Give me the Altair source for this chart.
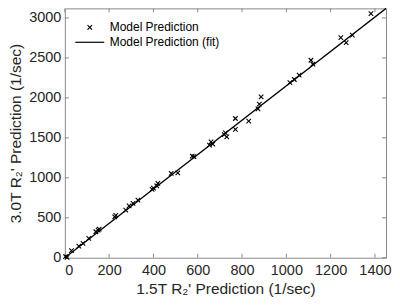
import altair as alt
import pandas as pd

# Data
pred_15T = [3, 10, 30, 63, 82, 108, 140, 150, 155, 225, 230, 275, 290, 308, 330,
            394, 400, 415, 420, 480, 510, 575, 583, 653, 660, 668, 720, 725, 731,
            770, 770, 830, 872, 878, 886, 1016, 1036, 1058, 1111, 1120, 1246, 1270,
            1298, 1382]
pred_30T = [15, 5, 88, 146, 180, 242, 325, 345, 358, 512, 530, 596, 650, 680, 721,
            855, 870, 900, 930, 1055, 1063, 1271, 1265, 1410, 1450, 1421, 1540, 1563, 1513,
            1605, 1742, 1709, 1863, 1921, 2013, 2192, 2230, 2284, 2471, 2421, 2755, 2692,
            2784, 3055]
fit_x = [0, 1450]
fit_y = [0, 3120]
x_ticks = [0, 200, 400, 600, 800, 1000, 1200, 1400]
y_ticks = [0, 500, 1000, 1500, 2000, 2500, 3000]
series_names = ["Model Prediction", "Model Prediction (fit)"]

W, H = 322, 250
FONT = "Liberation Sans"
AXIS_GRAY = "#8a8a8a"
TEXT = "#262626"

pts = pd.DataFrame({"x": pred_15T, "y": pred_30T, "series": series_names[0]})
fit = pd.DataFrame({"x": fit_x, "y": fit_y})
xt = pd.DataFrame({"t": x_ticks})
yt = pd.DataFrame({"t": y_ticks})

xscale = alt.Scale(domain=[0, 1450], nice=False, zero=False)
yscale = alt.Scale(domain=[0, 3120], nice=False, zero=False)

x_path = "M-0.45,-0.45L0.45,0.45M-0.45,0.45L0.45,-0.45"
line_path = "M-2.9,0L2.9,0"

points = alt.Chart(pts).mark_point(size=100, stroke="black", strokeWidth=1.1, filled=False, opacity=1).encode(
    x=alt.X("x:Q", scale=xscale,
            axis=alt.Axis(values=x_ticks, format="d", title="1.5T R₂' Prediction (1/sec)", ticks=False,
                          domain=False, grid=False, labelPadding=6, titlePadding=4)),
    y=alt.Y("y:Q", scale=yscale,
            axis=alt.Axis(values=y_ticks, format="d", title="3.0T R₂' Prediction (1/sec)", ticks=False,
                          domain=False, grid=False, labelPadding=4, titlePadding=5)),
    shape=alt.Shape("series:N",
                    scale=alt.Scale(domain=series_names, range=[x_path, line_path]),
                    legend=alt.Legend(title=None, orient="none", legendX=19, legendY=13, padding=0,
                                      symbolSize=100, symbolStrokeColor="black", symbolStrokeWidth=1.2,
                                      symbolFillColor="transparent", labelFont=FONT, labelFontSize=12,
                                      labelColor="black", labelOffset=14, rowPadding=3)),
)

line = alt.Chart(fit).mark_line(color="black", strokeWidth=1.3).encode(
    x=alt.X("x:Q", scale=xscale), y=alt.Y("y:Q", scale=yscale)
)

tick_len = 4
bottom_ticks = alt.Chart(xt).mark_rule(color=AXIS_GRAY, strokeWidth=1).encode(
    x=alt.X("t:Q", scale=xscale), y=alt.value(H), y2=alt.value(H - tick_len))
top_ticks = alt.Chart(xt).mark_rule(color=AXIS_GRAY, strokeWidth=1).encode(
    x=alt.X("t:Q", scale=xscale), y=alt.value(0), y2=alt.value(tick_len))
left_ticks = alt.Chart(yt).mark_rule(color=AXIS_GRAY, strokeWidth=1).encode(
    y=alt.Y("t:Q", scale=yscale), x=alt.value(0), x2=alt.value(tick_len))
right_ticks = alt.Chart(yt).mark_rule(color=AXIS_GRAY, strokeWidth=1).encode(
    y=alt.Y("t:Q", scale=yscale), x=alt.value(W), x2=alt.value(W - tick_len))

chart = alt.layer(bottom_ticks, top_ticks, left_ticks, right_ticks, line, points).properties(
    width=W, height=H,
    background="white",
    autosize=alt.AutoSizeParams(type="none"),
    padding={"left": 57, "top": 0, "right": 6, "bottom": 40},
).configure_view(
    stroke=AXIS_GRAY, strokeWidth=1
).configure_axis(
    labelFont=FONT, labelFontSize=14.5, labelColor=TEXT,
    titleFont=FONT, titleFontSize=15.5, titleColor=TEXT, titleFontWeight="normal",
)

chart.save("out.html", embed_options={"renderer": "svg", "actions": False})
